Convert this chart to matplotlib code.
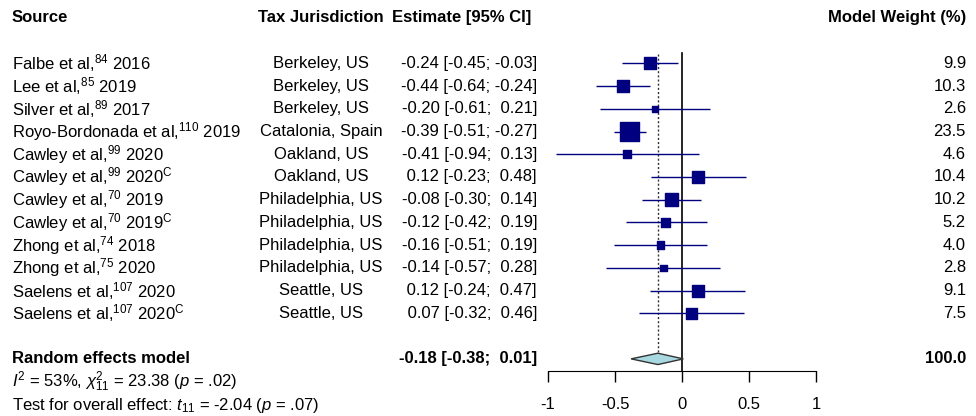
import matplotlib.pyplot as plt
import matplotlib.transforms as mtransforms
import numpy as np

plt.rcParams['font.family'] = ['Liberation Sans', 'DejaVu Sans']
plt.rcParams['mathtext.fontset'] = 'custom'
plt.rcParams['mathtext.rm'] = 'Liberation Sans'
plt.rcParams['mathtext.it'] = 'Liberation Sans:italic'
plt.rcParams['mathtext.bf'] = 'Liberation Sans:bold'
plt.rcParams['axes.unicode_minus'] = False

studies = ["Falbe et al,$^{84}$ 2016", "Lee et al,$^{85}$ 2019", "Silver et al,$^{89}$ 2017",
           "Royo-Bordonada et al,$^{110}$ 2019", "Cawley et al,$^{99}$ 2020",
           r"Cawley et al,$^{99}$ 2020$^{\mathrm{C}}$", "Cawley et al,$^{70}$ 2019",
           r"Cawley et al,$^{70}$ 2019$^{\mathrm{C}}$", "Zhong et al,$^{74}$ 2018",
           "Zhong et al,$^{75}$ 2020", "Saelens et al,$^{107}$ 2020",
           r"Saelens et al,$^{107}$ 2020$^{\mathrm{C}}$"]
places = ["Berkeley, US", "Berkeley, US", "Berkeley, US", "Catalonia, Spain",
          "Oakland, US", "Oakland, US", "Philadelphia, US", "Philadelphia, US",
          "Philadelphia, US", "Philadelphia, US", "Seattle, US", "Seattle, US"]
est = [-0.24, -0.44, -0.20, -0.39, -0.41, 0.12, -0.08, -0.12, -0.16, -0.14, 0.12, 0.07]
lo = [-0.45, -0.64, -0.61, -0.51, -0.94, -0.23, -0.30, -0.42, -0.51, -0.57, -0.24, -0.32]
hi = [-0.03, -0.24, 0.21, -0.27, 0.13, 0.48, 0.14, 0.19, 0.19, 0.28, 0.47, 0.46]
weights = [9.9, 10.3, 2.6, 23.5, 4.6, 10.4, 10.2, 5.2, 4.0, 2.8, 9.1, 7.5]
pooled, pooled_lo, pooled_hi = -0.18, -0.38, 0.01

fig = plt.figure(figsize=(9.76, 4.16), dpi=100)
ax = fig.add_axes([548 / 976, (416 - 370.7) / 416, 268 / 976, 370.7 / 416])
ax.set_xlim(-1, 1)
ax.set_ylim(13.52, -2.785)
for s in ['left', 'right', 'top']:
    ax.spines[s].set_visible(False)
ax.set_yticks([])
ax.set_xticks([-1, -0.5, 0, 0.5, 1])
ax.set_xticklabels(['-1', '-0.5', '0', '0.5', '1'])
ax.tick_params(axis='x', length=8, width=1, labelsize=12, pad=11)

rows = np.arange(len(est))
navy = '#000080'

# reference lines
ax.plot([0, 0], [-0.45, 13.52], color='black', lw=1.2, clip_on=False)
ax.plot([pooled, pooled], [-0.4, 13.25], color='#333333', lw=1, ls=(0, (1.5, 1.5)), clip_on=False)

# study CIs and boxes
ax.hlines(rows, lo, hi, color=navy, lw=1, clip_on=False)
ax.scatter(est, rows, s=np.array(weights) * 8, marker='s', color=navy, zorder=3, clip_on=False)

# pooled diamond
ax.fill([pooled_lo, pooled, pooled_hi, pooled], [13, 13.25, 13, 12.75],
        facecolor='#a8d8e0', edgecolor='#333333', lw=1, zorder=3)

tr = mtransforms.blended_transform_factory(fig.transFigure, ax.transData)
fs = 12

def fx(px):
    return px / 976

# headers
ax.text(fx(12), -2, "Source", transform=tr, fontsize=fs, fontweight='bold', va='center')
ax.text(fx(321), -2, "Tax Jurisdiction", transform=tr, fontsize=fs, fontweight='bold', va='center', ha='center')
ax.text(fx(392), -2, "Estimate [95% CI]", transform=tr, fontsize=fs, fontweight='bold', va='center')
ax.text(fx(966), -2, "Model Weight (%)", transform=tr, fontsize=fs, fontweight='bold', va='center', ha='right')

for i in rows:
    ax.text(fx(12), i, studies[i], transform=tr, fontsize=fs, va='center')
    ax.text(fx(321), i, places[i], transform=tr, fontsize=fs, va='center', ha='center')
    ci = "%5.2f [%5.2f; %5.2f]" % (est[i], lo[i], hi[i])
    ax.text(fx(537), i, ci, transform=tr, fontsize=fs, va='center', ha='right')
    ax.text(fx(966), i, "%.1f" % weights[i], transform=tr, fontsize=fs, va='center', ha='right')

ax.text(fx(12), 13, "Random effects model", transform=tr, fontsize=fs, fontweight='bold', va='center')
ax.text(fx(537), 13, "%5.2f [%5.2f; %5.2f]" % (pooled, pooled_lo, pooled_hi), transform=tr,
        fontsize=fs, fontweight='bold', va='center', ha='right')
ax.text(fx(966), 13, "100.0", transform=tr, fontsize=fs, fontweight='bold', va='center', ha='right')
ax.text(fx(12), 14, r"$I^2$ = 53%, $\chi^2_{11}$ = 23.38 ($p$ = .02)", transform=tr, fontsize=fs, va='center')
ax.text(fx(12), 15.05, r"Test for overall effect: $t_{11}$ = -2.04 ($p$ = .07)", transform=tr, fontsize=fs, va='center')

fig.savefig('out.png', dpi=100)
